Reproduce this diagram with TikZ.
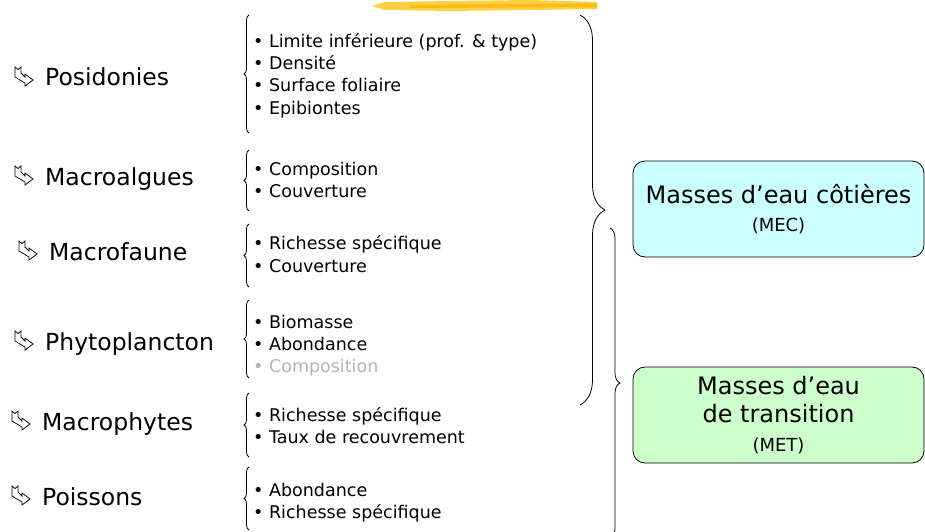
\documentclass[tikz,border=0pt]{standalone}
\usepackage{fontspec}
\setmainfont{DejaVu Sans}
\usetikzlibrary{decorations.pathreplacing,positioning}
\definecolor{mecfill}{HTML}{CCFFFF}
\definecolor{metfill}{HTML}{CCFFCC}
\definecolor{hilite}{HTML}{F9C515}
\definecolor{greyitem}{HTML}{B4B4B4}

\begin{document}
\begin{tikzpicture}[x=1pt,y=-1pt,
    taxon/.style={anchor=base west,inner sep=0pt,font=\fontsize{23.5}{28}\selectfont},
    item/.style={anchor=base west,inner sep=0pt,font=\fontsize{17.5}{21}\selectfont},
    lbrace/.style={decorate,decoration={brace,amplitude=5pt},line width=0.8pt},
    rbrace/.style={decorate,decoration={brace,amplitude=#1},line width=0.8pt},
    waterbox/.style={draw,rounded corners=12pt,line width=0.8pt,minimum width=291pt,
      minimum height=96pt,align=center,font=\fontsize{24}{28.5}\selectfont},
    bentarr/.pic={\draw[line width=0.75pt,line join=miter]
      (0,0)--(3,2.5)--(6,0)--(6,6)--(10,10)--(10,7)--(18,13)--(10,19)--(10,16)--(0,10)--cycle;}]
  \useasboundingbox (0,0) rectangle (925,532);
  \clip (0,0) rectangle (925,532);
  % highlighter stroke at the top
  \fill[hilite,opacity=0.8] (372,6)--(385,2)--(450,1)--(530,0)--(597,2)--(597,9)--(530,10)--(450,11)--(385,10)--cycle;
  \fill[hilite!85!orange] (410,5)--(597,3.5)--(597,7)--(410,8)--cycle;
  % taxa
  \foreach \lx/\ly/\name [count=\i] in {45/86/Posidonies, 45/185/Macroalgues, 49/260/Macrofaune,
      45/350/Phytoplancton, 42/430/Macrophytes, 42/505/Poissons}
  {
    \node[taxon] (tax\i) at (\lx,\ly) {\name};
    \pic at (\lx-30,\ly-19) {bentarr};
  }
  % indicator lists
  \foreach \yy/\txt [count=\i] in {48/Limite inférieure (prof. \& type), 70/Densité,
      92/Surface foliaire, 114/Epibiontes, 175/Composition, 197/Couverture,
      249/Richesse spécifique, 272/Couverture, 328/Biomasse, 350/Abondance,
      421/Richesse spécifique, 443/Taux de recouvrement, 496/Abondance, 518/Richesse spécifique}
    \node[item] (ind\i) at (253,\yy) {• \txt};
  \node[item,text=greyitem] (ind15) at (253,372) {• Composition};
  \foreach \ya/\yb in {133/15, 211/150, 287/224, 378/300, 457/393, 530/467}
    \draw[lbrace] (249,\ya) -- (249,\yb);
  % grouping braces
  \draw[rbrace=25pt] (580,15) -- (580,405);
  \draw[rbrace=10pt] (610,228) -- (610,538);
  % water bodies
  \node[waterbox,fill=mecfill] (mec) at (778.5,209)
    {Masses d'eau côtières\\{\fontsize{18}{22}\selectfont (MEC)}};
  \node[waterbox,fill=metfill] (met) at (778.5,415)
    {Masses d'eau\\de transition\\{\fontsize{18}{22}\selectfont (MET)}};
\end{tikzpicture}
\end{document}
